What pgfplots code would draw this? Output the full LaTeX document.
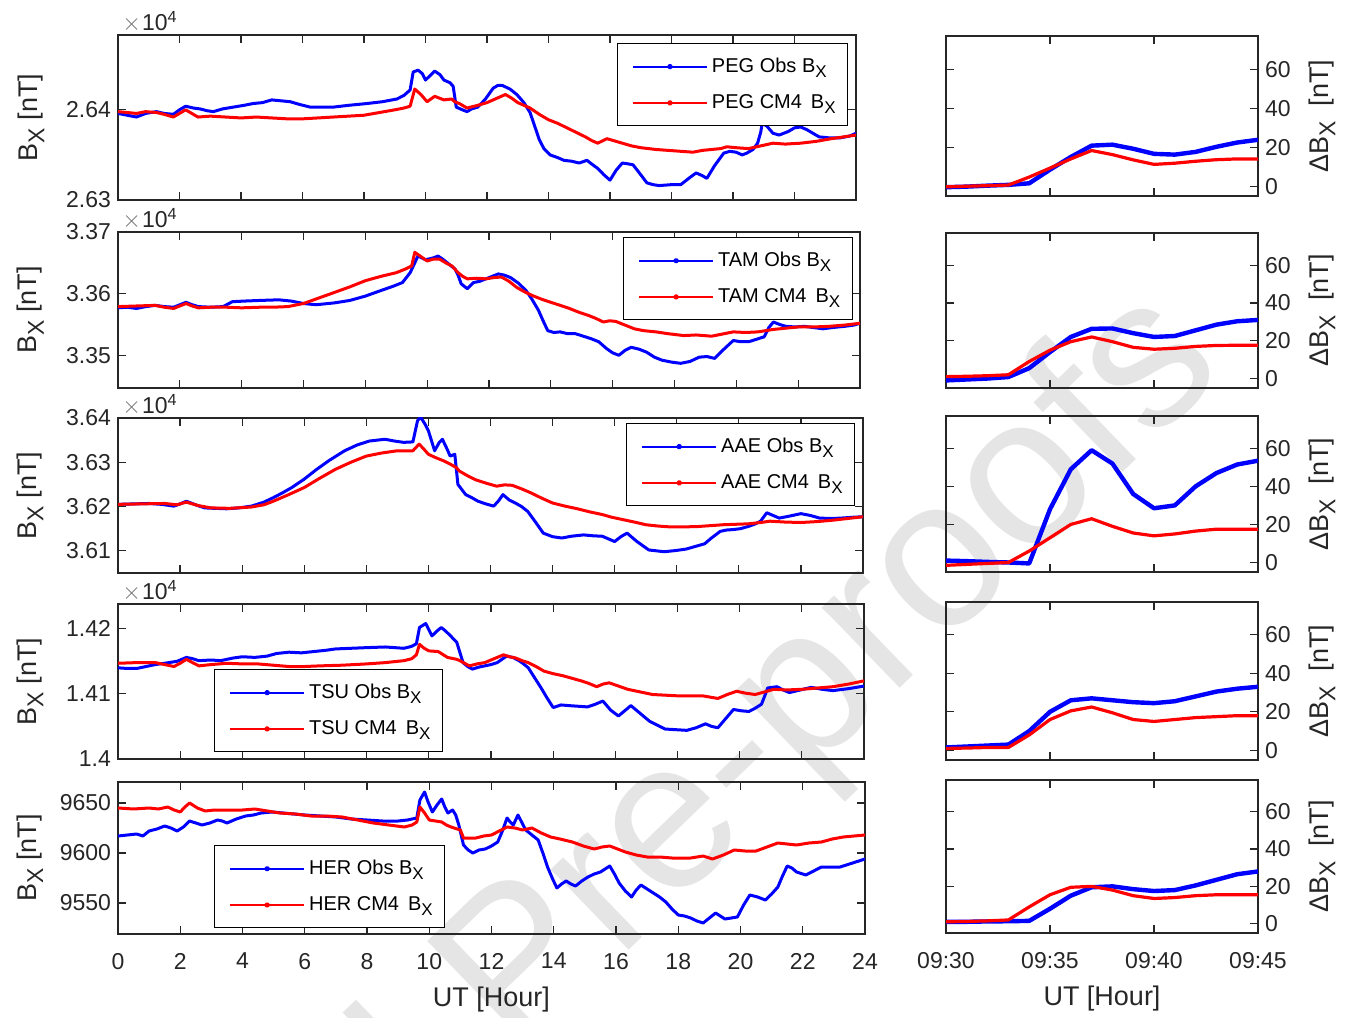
\documentclass[border=0pt]{standalone}
\usepackage{fontspec}
\setmainfont{Liberation Sans}
\usepackage{pgfplots}
\pgfplotsset{compat=1.18}

\definecolor{axgray}{RGB}{38,38,38}
\newcommand{\sub}[1]{\raisebox{-0.5ex}{\scalebox{0.85}{#1}}}
\newcommand{\tickfont}{\fontsize{11.5}{13}\selectfont}
\newcommand{\labfont}{\fontsize{13.5}{16}\selectfont}
\newcommand{\legfont}{\fontsize{10}{12}\selectfont}

\pgfplotsset{
  base/.style={
    scale only axis, anchor=south west,
    axis line style={axgray, line width=0.6pt},
    tick style={axgray, line width=0.6pt},
    tick align=inside, major tick length=4pt,
    tick pos=both,
    scaled y ticks=false, scaled x ticks=false,
    tick label style={font=\tickfont, text=axgray},
    xticklabel style={yshift=-6pt},
    label style={font=\labfont, text=axgray},
    /pgf/number format/assume math mode=true,
    clip mode=individual,
  },
  lpanel/.style={base, xmin=0, xmax=24, xtick={0,2,...,24}, xticklabels={},
    yticklabel pos=left,
    ylabel={B\sub{X} [nT]},
    ylabel style={at={(axis description cs:-0.118,0.5)}, anchor=center},
    legend cell align=left,
    legend style={anchor=north west, draw=black, line width=0.6pt, font=\legfont,
      inner xsep=4pt, inner ysep=5.2pt, row sep=5.5pt},
    legend image code/.code={
      \path (0pt,0pt);
      \draw[#1, line width=1pt] (3pt,0pt) -- (40pt,0pt);
      \fill[#1] (21.5pt,0pt) circle (0.7pt);},
  },
  rpanel/.style={base, xmin=0, xmax=15, ymin=-5, ymax=77,
    xtick={0,5,10,15}, xticklabels={}, ytick={0,20,40,60},
    yticklabel pos=right,
    ylabel={ΔB\sub{X}\ \ [nT]},
    ylabel style={at={(axis description cs:1.205,0.5)}, anchor=center},
  },
  obs/.style={blue, line width=1.5pt, line join=round},
  cm/.style={red, line width=1.5pt, line join=round},
  dobs/.style={blue, line width=2.2pt, line join=round},
  dcm/.style={red, line width=1.6pt, line join=round},
}
\newcommand{\cmgap}{\hspace{0.45em}}

\begin{document}
\begin{tikzpicture}
\path[use as bounding box] (0,0) rectangle (682pt,508.5pt);

% watermark
\node[rotate=44, anchor=base west, inner sep=0pt, text=black!10,
  font=\fontsize{106}{110}\selectfont] (wm) at (258pt,-21pt) {Pre-proofs};
\node[rotate=44, anchor=base east, inner sep=0pt, text=black!10,
  font=\fontsize{106}{110}\selectfont] at (wm.base west) {Journal\kern0.28em};

% ---------- PEG ----------
\begin{axis}[lpanel, name=L1, at={(59pt,408.5pt)}, width=369pt, height=82.5pt,
  ymin=26300, ymax=26483, ytick={26300,26400}, yticklabels={2.63,2.64},
  legend style={at={(rel axis cs:0.676,0.952)}}]
\addplot[obs] coordinates {(0,26396) (0.3,26394) (0.6,26392) (0.9,26396) (1.25,26398) (1.5,26396) (1.8,26395) (2.0,26400) (2.2,26404) (2.45,26402) (2.67,26401) (2.9,26399) (3.1,26398) (3.4,26401) (3.75,26403) (4.1,26405) (4.4,26407) (4.7,26408) (5.0,26411) (5.3,26410) (5.6,26409) (5.9,26406) (6.25,26403) (6.6,26403) (7.0,26403) (7.5,26405) (8.1,26407) (8.6,26409) (9.07,26412) (9.3,26416) (9.5,26422) (9.6,26442) (9.76,26444) (9.9,26440) (10.0,26433) (10.15,26438) (10.3,26443) (10.47,26439) (10.6,26433) (10.8,26430) (10.9,26426) (11.0,26403) (11.2,26400) (11.35,26398) (11.5,26401) (11.7,26403) (11.95,26412) (12.2,26424) (12.35,26427) (12.5,26427) (12.75,26423) (12.97,26417) (13.2,26408) (13.4,26397) (13.55,26382) (13.7,26367) (13.85,26357) (14.05,26350) (14.3,26347) (14.5,26344) (14.75,26343) (15.0,26341) (15.25,26344) (15.4,26340) (15.6,26335) (15.8,26328) (16.0,26322) (16.2,26333) (16.4,26341) (16.6,26340) (16.75,26339) (17.0,26328) (17.2,26319) (17.4,26317) (17.6,26316) (18.0,26317) (18.3,26317) (18.6,26325) (18.8,26330) (19.0,26327) (19.15,26324) (19.4,26338) (19.7,26352) (19.9,26354) (20.1,26353) (20.3,26350) (20.45,26352) (20.65,26356) (20.8,26363) (20.9,26375) (20.95,26385) (21.1,26382) (21.3,26374) (21.5,26372) (21.8,26376) (22.0,26380) (22.2,26381) (22.4,26378) (22.6,26374) (22.8,26370) (23.1,26369) (23.5,26369) (23.8,26371) (24.0,26374)};
\addplot[cm] coordinates {(0,26398) (0.3,26397) (0.6,26396) (0.9,26398) (1.25,26397) (1.5,26395) (1.8,26392) (2.0,26396) (2.2,26400) (2.4,26396) (2.6,26392) (3.0,26393) (3.5,26392) (4.0,26391) (4.5,26392) (5.0,26391) (5.5,26390) (6.0,26390) (6.5,26391) (7.0,26392) (7.5,26393) (8.0,26394) (8.5,26397) (9.0,26400) (9.3,26402) (9.5,26404) (9.65,26423) (9.85,26417) (10.05,26409) (10.3,26415) (10.6,26411) (10.85,26412) (10.95,26409) (11.1,26407) (11.35,26402) (11.7,26405) (12.0,26408) (12.2,26411) (12.4,26414) (12.6,26417) (12.8,26413) (13.0,26408) (13.4,26402) (13.7,26395) (14.0,26389) (14.3,26385) (14.6,26380) (14.9,26375) (15.2,26370) (15.4,26366) (15.6,26363) (15.9,26368) (16.1,26366) (16.4,26363) (16.7,26360) (17.0,26358) (17.5,26356) (17.9,26355) (18.3,26354) (18.7,26353) (19.0,26355) (19.3,26356) (19.6,26357) (19.8,26359) (20.1,26358) (20.5,26357) (20.9,26360) (21.3,26363) (21.7,26362) (22.2,26363) (22.7,26365) (23.2,26368) (23.6,26370) (24.0,26372)};
\legend{PEG Obs B\sub{X}, PEG CM4\cmgap B\sub{X}}
\end{axis}

% ---------- TAM ----------
\begin{axis}[lpanel, name=L2, at={(59pt,314.5pt)}, width=371pt, height=78pt,
  ymin=33447, ymax=33700, ytick={33500,33600,33700}, yticklabels={3.35,3.36,3.37},
  legend style={at={(rel axis cs:0.6806,0.968)}}]
\addplot[obs] coordinates {(0,33577) (0.3,33578) (0.6,33576) (0.9,33579) (1.2,33581) (1.5,33579) (1.8,33578) (2.0,33582) (2.2,33586) (2.4,33582) (2.6,33579) (3.0,33578) (3.4,33579) (3.7,33587) (4.1,33588) (4.6,33589) (5.2,33590) (5.6,33588) (6.0,33584) (6.4,33582) (7.0,33585) (7.5,33589) (8.0,33596) (8.5,33605) (8.9,33612) (9.2,33618) (9.45,33634) (9.6,33650) (9.7,33661) (9.95,33655) (10.2,33658) (10.35,33661) (10.5,33656) (10.7,33648) (10.9,33640) (11.0,33630) (11.1,33616) (11.3,33608) (11.5,33618) (11.7,33620) (11.9,33624) (12.1,33628) (12.3,33632) (12.5,33630) (12.7,33626) (12.95,33617) (13.2,33605) (13.4,33590) (13.6,33573) (13.75,33556) (13.9,33540) (14.1,33537) (14.3,33538) (14.55,33535) (14.8,33535) (15.05,33531) (15.3,33527) (15.55,33522) (15.8,33511) (16.0,33504) (16.2,33500) (16.4,33508) (16.6,33513) (16.85,33510) (17.1,33505) (17.35,33497) (17.6,33492) (17.9,33489) (18.2,33487) (18.5,33490) (18.8,33497) (19.05,33498) (19.3,33495) (19.6,33510) (19.9,33524) (20.15,33522) (20.4,33522) (20.65,33526) (20.9,33530) (21.05,33545) (21.2,33554) (21.4,33550) (21.6,33547) (21.9,33546) (22.2,33547) (22.5,33545) (22.8,33543) (23.1,33545) (23.5,33547) (23.8,33549) (24.0,33552)};
\addplot[cm] coordinates {(0,33579) (0.6,33580) (1.2,33581) (1.5,33578) (1.8,33576) (2.0,33580) (2.2,33584) (2.4,33580) (2.6,33577) (3.0,33578) (3.5,33578) (4.0,33577) (4.6,33578) (5.0,33578) (5.5,33579) (6.0,33584) (6.5,33593) (7.0,33602) (7.5,33611) (8.0,33621) (8.5,33628) (9.0,33634) (9.3,33640) (9.5,33645) (9.6,33667) (9.8,33660) (10.0,33653) (10.2,33656) (10.4,33656) (10.6,33650) (10.8,33645) (11.0,33634) (11.15,33628) (11.3,33624) (11.6,33625) (11.9,33624) (12.15,33626) (12.4,33627) (12.65,33620) (12.9,33610) (13.15,33603) (13.4,33597) (13.7,33591) (14.0,33586) (14.3,33581) (14.6,33576) (14.9,33570) (15.2,33565) (15.45,33560) (15.7,33554) (15.9,33556) (16.1,33555) (16.4,33549) (16.7,33543) (17.0,33540) (17.4,33538) (17.8,33535) (18.3,33532) (18.7,33533) (19.2,33531) (19.5,33534) (19.9,33538) (20.3,33537) (20.7,33538) (21.2,33542) (21.6,33544) (22.0,33546) (22.5,33546) (23.0,33547) (23.5,33549) (24.0,33552)};
\legend{TAM Obs B\sub{X}, TAM CM4\cmgap B\sub{X}}
\end{axis}

% ---------- AAE ----------
\begin{axis}[lpanel, name=L3, at={(59pt,222pt)}, width=372.5pt, height=77.5pt,
  ymin=36050, ymax=36400, ytick={36100,36200,36300,36400}, yticklabels={3.61,3.62,3.63,3.64},
  legend style={at={(rel axis cs:0.682,0.968)}}]
\addplot[obs] coordinates {(0,36205) (0.5,36206) (1.0,36207) (1.4,36205) (1.8,36201) (2.0,36206) (2.2,36212) (2.5,36204) (2.8,36197) (3.1,36196) (3.5,36195) (3.9,36197) (4.3,36201) (4.7,36210) (5.0,36220) (5.3,36231) (5.6,36243) (6.0,36262) (6.4,36284) (6.8,36304) (7.3,36326) (7.7,36339) (8.1,36348) (8.6,36352) (8.9,36348) (9.2,36345) (9.5,36346) (9.65,36394) (9.75,36402) (9.9,36385) (10.0,36371) (10.2,36326) (10.35,36345) (10.45,36352) (10.6,36330) (10.7,36314) (10.85,36318) (10.95,36250) (11.2,36227) (11.4,36220) (11.6,36212) (11.85,36206) (12.1,36201) (12.25,36212) (12.4,36227) (12.6,36215) (12.8,36208) (13.0,36200) (13.2,36189) (13.45,36165) (13.7,36140) (14.0,36132) (14.3,36129) (14.6,36133) (15.0,36136) (15.3,36134) (15.6,36133) (15.8,36127) (16.0,36121) (16.2,36132) (16.4,36140) (16.7,36122) (17.1,36102) (17.6,36098) (18.0,36101) (18.3,36104) (18.6,36110) (18.9,36116) (19.1,36128) (19.4,36144) (19.6,36147) (19.8,36148) (20.05,36150) (20.3,36155) (20.5,36160) (20.7,36167) (20.9,36186) (21.1,36180) (21.3,36174) (21.6,36178) (22.0,36184) (22.3,36180) (22.6,36174) (23.0,36173) (23.3,36174) (23.7,36176) (24.0,36177)};
\addplot[cm] coordinates {(0,36205) (0.7,36206) (1.5,36207) (1.9,36204) (2.2,36210) (2.6,36202) (3.0,36197) (3.6,36196) (4.3,36199) (4.7,36204) (5.0,36212) (5.5,36227) (6.0,36243) (6.5,36264) (7.0,36284) (7.5,36300) (8.0,36314) (8.5,36321) (9.0,36326) (9.5,36326) (9.7,36341) (9.85,36330) (10.0,36318) (10.25,36310) (10.5,36303) (10.7,36296) (10.9,36288) (11.0,36280) (11.25,36270) (11.5,36261) (11.85,36253) (12.2,36246) (12.45,36249) (12.7,36248) (13.0,36240) (13.3,36231) (13.65,36219) (14.0,36208) (14.4,36201) (14.8,36195) (15.2,36188) (15.6,36182) (15.9,36176) (16.3,36170) (16.7,36164) (17.0,36159) (17.4,36156) (17.8,36154) (18.2,36154) (18.7,36155) (19.1,36157) (19.5,36159) (19.9,36160) (20.3,36161) (20.7,36164) (21.0,36167) (21.5,36165) (22.0,36164) (22.5,36166) (23.0,36169) (23.5,36173) (24.0,36177)};
\legend{AAE Obs B\sub{X}, AAE CM4\cmgap B\sub{X}}
\end{axis}

% ---------- TSU ----------
\begin{axis}[lpanel, name=L4, at={(59pt,129pt)}, width=373pt, height=77.5pt,
  ymin=14000, ymax=14238, ytick={14000,14100,14200}, yticklabels={1.4,1.41,1.42},
  legend style={at={(rel axis cs:0.1287,0.581)}}]
\addplot[obs] coordinates {(0,14140) (0.3,14139) (0.6,14139) (0.9,14142) (1.2,14145) (1.5,14147) (1.9,14150) (2.2,14156) (2.4,14154) (2.6,14151) (3.0,14152) (3.3,14151) (3.7,14155) (4.0,14157) (4.4,14156) (4.8,14158) (5.1,14162) (5.5,14164) (5.9,14163) (6.3,14165) (6.7,14167) (7.0,14169) (7.5,14170) (8.0,14171) (8.6,14172) (9.2,14170) (9.45,14173) (9.6,14177) (9.7,14202) (9.9,14208) (10.1,14189) (10.25,14196) (10.4,14202) (10.55,14196) (10.7,14189) (10.9,14179) (11.1,14148) (11.25,14142) (11.4,14138) (11.6,14141) (11.8,14143) (12.0,14145) (12.2,14148) (12.35,14153) (12.5,14158) (12.7,14156) (12.9,14151) (13.05,14146) (13.2,14140) (13.4,14125) (13.6,14110) (13.8,14094) (14.0,14079) (14.25,14083) (14.5,14082) (14.8,14081) (15.1,14080) (15.35,14084) (15.6,14089) (15.85,14075) (16.1,14066) (16.3,14074) (16.5,14082) (16.8,14070) (17.1,14058) (17.35,14052) (17.6,14046) (17.95,14045) (18.3,14044) (18.6,14048) (18.9,14054) (19.1,14050) (19.3,14048) (19.55,14062) (19.8,14076) (20.05,14074) (20.3,14073) (20.5,14078) (20.7,14084) (20.8,14096) (20.9,14109) (21.2,14111) (21.4,14106) (21.6,14102) (21.95,14106) (22.3,14110) (22.65,14107) (23.0,14105) (23.5,14108) (24.0,14112)};
\addplot[cm] coordinates {(0,14147) (0.6,14148) (1.2,14148) (1.5,14145) (1.8,14142) (2.0,14147) (2.2,14153) (2.4,14148) (2.6,14143) (3.0,14145) (3.5,14147) (4.0,14146) (4.5,14146) (5.0,14144) (5.5,14142) (6.0,14142) (6.5,14143) (7.2,14144) (8.0,14146) (8.6,14148) (9.2,14151) (9.45,14154) (9.6,14160) (9.7,14176) (9.85,14170) (10.0,14166) (10.3,14165) (10.6,14156) (10.9,14153) (11.0,14151) (11.3,14143) (11.55,14146) (11.8,14148) (12.1,14154) (12.4,14160) (12.6,14157) (12.8,14155) (13.0,14151) (13.2,14148) (13.45,14142) (13.7,14135) (14.0,14131) (14.3,14128) (14.6,14124) (14.9,14120) (15.15,14116) (15.4,14111) (15.6,14115) (15.8,14117) (16.1,14112) (16.4,14107) (16.8,14103) (17.2,14099) (17.6,14098) (18.0,14097) (18.4,14097) (18.8,14097) (19.05,14095) (19.3,14093) (19.6,14099) (19.9,14104) (20.2,14101) (20.5,14099) (20.8,14103) (21.1,14107) (21.5,14106) (22.0,14107) (22.5,14109) (23.0,14111) (23.5,14115) (24.0,14120)};
\legend{TSU Obs B\sub{X}, TSU CM4\cmgap B\sub{X}}
\end{axis}

% ---------- HER ----------
\begin{axis}[lpanel, name=L5, at={(59pt,41.5pt)}, width=373.5pt, height=76pt,
  ymin=9519, ymax=9671, ytick={9550,9600,9650}, yticklabels={9550,9600,9650},
  xticklabels={0,2,4,6,8,10,12,14,16,18,20,22,24},
  xlabel={UT [Hour]},
  xlabel style={at={(axis description cs:0.5,0)}, anchor=center, yshift=-33pt},
  legend style={at={(rel axis cs:0.1285,0.5855)}}]
\addplot[obs] coordinates {(0,9617) (0.3,9618) (0.6,9619) (0.8,9617) (1.0,9622) (1.25,9624) (1.5,9627) (1.7,9625) (1.9,9622) (2.1,9626) (2.3,9632) (2.5,9630) (2.7,9628) (2.95,9630) (3.2,9633) (3.35,9632) (3.5,9630) (3.8,9634) (4.1,9637) (4.35,9638) (4.6,9640) (4.95,9641) (5.3,9640) (5.65,9639) (6.0,9638) (6.5,9637) (7.0,9636) (7.5,9634) (8.0,9633) (8.5,9632) (9.0,9632) (9.3,9633) (9.6,9635) (9.7,9653) (9.85,9661) (9.95,9652) (10.1,9641) (10.25,9648) (10.4,9654) (10.5,9646) (10.6,9640) (10.75,9643) (10.85,9638) (10.95,9628) (11.1,9608) (11.25,9603) (11.4,9600) (11.6,9603) (11.8,9604) (12.0,9607) (12.2,9611) (12.35,9622) (12.5,9635) (12.6,9631) (12.7,9628) (12.85,9638) (13.0,9629) (13.1,9623) (13.3,9618) (13.5,9613) (13.65,9600) (13.8,9586) (13.95,9575) (14.1,9565) (14.25,9569) (14.4,9572) (14.55,9569) (14.7,9567) (14.9,9572) (15.1,9576) (15.3,9579) (15.5,9581) (15.65,9584) (15.8,9587) (15.95,9579) (16.1,9570) (16.3,9562) (16.5,9556) (16.65,9563) (16.8,9568) (17.0,9564) (17.2,9560) (17.4,9556) (17.6,9551) (17.8,9544) (18.0,9538) (18.2,9537) (18.4,9535) (18.6,9532) (18.8,9530) (19.0,9535) (19.2,9540) (19.35,9537) (19.5,9534) (19.7,9535) (19.9,9536) (20.1,9548) (20.3,9558) (20.55,9556) (20.8,9553) (21.0,9559) (21.2,9566) (21.35,9577) (21.5,9587) (21.65,9585) (21.8,9581) (22.1,9578) (22.35,9582) (22.6,9586) (22.9,9586) (23.2,9586) (23.6,9590) (24.0,9594)};
\addplot[cm] coordinates {(0,9645) (0.5,9644) (1.0,9645) (1.3,9644) (1.6,9646) (1.8,9643) (2.0,9641) (2.15,9646) (2.3,9650) (2.55,9645) (2.8,9642) (3.1,9643) (3.5,9643) (4.0,9643) (4.4,9644) (4.8,9642) (5.2,9640) (5.7,9639) (6.2,9637) (6.7,9637) (7.2,9636) (7.7,9633) (8.2,9630) (8.7,9628) (9.2,9626) (9.45,9628) (9.6,9631) (9.7,9646) (9.85,9640) (10.0,9633) (10.2,9632) (10.4,9631) (10.55,9628) (10.7,9626) (11.0,9623) (11.1,9615) (11.3,9615) (11.5,9615) (11.75,9617) (12.0,9618) (12.25,9622) (12.5,9626) (12.75,9625) (13.0,9623) (13.3,9625) (13.6,9620) (13.9,9616) (14.2,9614) (14.6,9611) (14.95,9607) (15.3,9604) (15.55,9606) (15.8,9607) (16.05,9604) (16.3,9601) (16.65,9598) (17.0,9596) (17.4,9596) (17.8,9595) (18.1,9595) (18.4,9595) (18.8,9597) (19.1,9594) (19.45,9598) (19.8,9603) (20.15,9602) (20.5,9602) (20.85,9606) (21.2,9610) (21.5,9609) (21.8,9608) (22.2,9610) (22.6,9611) (22.95,9614) (23.3,9616) (23.65,9617) (24.0,9618)};
\legend{HER Obs B\sub{X}, HER CM4\cmgap B\sub{X}}
\end{axis}

% x10^4 markers
\foreach \ax in {L1,L2,L3,L4}{
  \node[anchor=base west, inner sep=0pt, font=\tickfont, text=axgray, xshift=2pt, yshift=2pt]
    at (\ax.north west) {\textcolor{black!55}{$\times$}\kern0.5pt 10\textsuperscript{4}};
}

% ---------- right panels ----------
\begin{axis}[rpanel, at={(473pt,410.5pt)}, width=156pt, height=80pt]
\addplot[dobs] coordinates {(0,-0.5) (1,-0.2) (2,0.3) (3,0.7) (4,1.5) (5,8.5) (6,15) (7,20.8) (8,21.3) (9,19.2) (10,16.6) (11,16.2) (12,17.6) (13,20.2) (14,22.4) (15,23.8)};
\addplot[dcm] coordinates {(0,-0.3) (1,0) (2,0.3) (3,0.6) (4,4.7) (5,9.3) (6,14) (7,18.3) (8,16.2) (9,13.5) (10,11.2) (11,11.8) (12,12.8) (13,13.6) (14,14) (15,14)};
\end{axis}

\begin{axis}[rpanel, at={(473pt,314.5pt)}, width=156pt, height=77.5pt]
\addplot[dobs] coordinates {(0,-1) (1,-0.5) (2,0) (3,0.8) (4,5.5) (5,14) (6,22) (7,26.3) (8,26.5) (9,24) (10,22) (11,22.5) (12,25.5) (13,28.5) (14,30.3) (15,31)};
\addplot[dcm] coordinates {(0,1) (1,1.2) (2,1.5) (3,2) (4,9) (5,15) (6,19.5) (7,22) (8,19.5) (9,16.5) (10,15.5) (11,16) (12,17) (13,17.5) (14,17.6) (15,17.6)};
\end{axis}

\begin{axis}[rpanel, at={(473pt,222.5pt)}, width=156pt, height=78pt]
\addplot[dobs] coordinates {(0,1) (1,0.7) (2,0.3) (3,0) (4,-0.5) (5,28) (6,49) (7,59) (8,52) (9,36) (10,28.5) (11,30) (12,40) (13,47) (14,51.5) (15,53.5)};
\addplot[dcm] coordinates {(0,-1.5) (1,-1) (2,-0.5) (3,0) (4,6) (5,13) (6,20) (7,23) (8,19) (9,15.5) (10,14) (11,15) (12,16.5) (13,17.5) (14,17.5) (15,17.5)};
\end{axis}

\begin{axis}[rpanel, at={(473pt,128.5pt)}, width=156pt, height=79pt]
\addplot[dobs] coordinates {(0,1.5) (1,2) (2,2.5) (3,3) (4,10) (5,20) (6,26) (7,27) (8,26) (9,25) (10,24.5) (11,25.5) (12,28) (13,30.5) (14,32) (15,33)};
\addplot[dcm] coordinates {(0,1) (1,1.2) (2,1.5) (3,1.5) (4,8) (5,16) (6,20.5) (7,22.5) (8,19.5) (9,16) (10,15) (11,16) (12,17) (13,17.5) (14,18) (15,18)};
\end{axis}

\begin{axis}[rpanel, at={(473pt,42pt)}, width=156pt, height=76.5pt,
  xticklabels={09:30,09:35,09:40,09:45},
  xlabel={UT [Hour]},
  xlabel style={at={(axis description cs:0.5,0)}, anchor=center, yshift=-33pt}]
\addplot[dobs] coordinates {(0,1) (1,1) (2,1.2) (3,1.3) (4,1.5) (5,8) (6,15) (7,19.5) (8,20) (9,18.5) (10,17.5) (11,18) (12,20.5) (13,23.5) (14,26.5) (15,28)};
\addplot[dcm] coordinates {(0,1) (1,1.2) (2,1.5) (3,2) (4,9) (5,15.5) (6,19.5) (7,20) (8,18) (9,15) (10,13.5) (11,14) (12,15) (13,15.5) (14,15.5) (15,15.5)};
\end{axis}
\end{tikzpicture}
\end{document}
